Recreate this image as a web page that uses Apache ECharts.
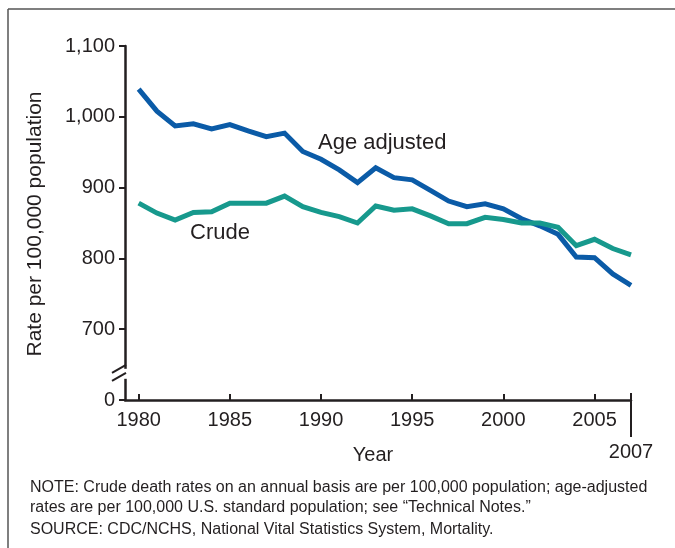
<!DOCTYPE html>
<html>
<head>
<meta charset="utf-8">
<script src="https://cdn.jsdelivr.net/npm/echarts@6.0.0/dist/echarts.min.js"></script>
<style>
html,body{margin:0;padding:0;background:#fff;}
#chart{width:675px;height:548px;}
</style>
</head>
<body>
<div id="chart"></div>
<script>
const years = [1980,1981,1982,1983,1984,1985,1986,1987,1988,1989,1990,1991,1992,1993,1994,1995,1996,1997,1998,1999,2000,2001,2002,2003,2004,2005,2006,2007];
const ageAdjusted = [1039,1008,987,990,983,989,980,972,977,951,940,925,907,928,914,911,896,881,873,877,870,856,846,834,802,801,778,762];
const crude = [878,864,854,865,866,878,878,878,888,873,865,859,850,874,868,870,860,849,849,858,855,850,850,844,818,827,814,805];
const xTicks = [1980,1985,1990,1995,2000,2005];
const yTicks = [600,700,800,900,1000,1100];
const yBreakLabel = {600: '0'};
const seriesNames = ['Age adjusted','Crude'];
const noteLines = [
  'NOTE: Crude death rates on an annual basis are per 100,000 population; age-adjusted',
  'rates are per 100,000 U.S. standard population; see \u201cTechnical Notes.\u201d',
  'SOURCE: CDC/NCHS, National Vital Statistics System, Mortality.'
];

const FONT = '"Liberation Sans", Arial, Helvetica, sans-serif';
const INK = '#231f20';
const BLUE = '#0b5ba7';
const TEAL = '#17998d';

const chart = echarts.init(document.getElementById('chart'), null, {renderer:'canvas'});

function pairs(vals){ return years.map((y,i)=>[y, vals[i]]); }

chart.setOption({
  animation:false,
  backgroundColor:'#fff',
  grid:{left:125, right:44, top:46, bottom:148, containLabel:false},
  xAxis:{
    type:'value', min:1979.25, max:2007,
    splitLine:{show:false},
    axisLine:{show:true, lineStyle:{color:INK, width:2.5}},
    axisTick:{show:true, inside:true, length:6, lineStyle:{color:INK, width:2}, customValues:xTicks},
    axisLabel:{show:true, customValues:xTicks, fontSize:20, color:INK, fontFamily:FONT, margin:10,
      formatter:v=>String(v)}
  },
  yAxis:{
    type:'value', min:600, max:1100, interval:100,
    splitLine:{show:false},
    axisLine:{show:true, lineStyle:{color:INK, width:2.5}},
    axisTick:{show:true, inside:false, length:6, lineStyle:{color:INK, width:2}},
    axisLabel:{fontSize:20, color:INK, fontFamily:FONT, margin:10,
      formatter:v=> yBreakLabel[v] !== undefined ? yBreakLabel[v] : v.toLocaleString('en-US')}
  },
  series:[
    {name:seriesNames[0], type:'line', data:pairs(ageAdjusted), symbol:'none',
     lineStyle:{color:BLUE, width:5, join:'miter'}, itemStyle:{color:BLUE}, z:3},
    {name:seriesNames[1], type:'line', data:pairs(crude), symbol:'none',
     lineStyle:{color:TEAL, width:5, join:'miter'}, itemStyle:{color:TEAL}, z:4}
  ]
});

const x0 = chart.convertToPixel({xAxisIndex:0}, 1979.25);
const x2007 = chart.convertToPixel({xAxisIndex:0}, 2007);
const yBottom = chart.convertToPixel({yAxisIndex:0}, 600);
const yBrk = chart.convertToPixel({yAxisIndex:0}, 637);

const graphics = [
  // frame
  {type:'line', shape:{x1:8, y1:9, x2:675, y2:9}, style:{stroke:'#555', lineWidth:1.5}, silent:true},
  {type:'line', shape:{x1:8, y1:9, x2:8, y2:548}, style:{stroke:'#555', lineWidth:1.5}, silent:true},
  // axis break gap
  {type:'rect', shape:{x:x0-3, y:yBrk-5, width:6, height:10}, style:{fill:'#fff'}, z:100},
  {type:'line', shape:{x1:x0-13, y1:yBrk-1, x2:x0+1, y2:yBrk-9}, style:{stroke:INK, lineWidth:2}, z:101},
  {type:'line', shape:{x1:x0-13, y1:yBrk+7, x2:x0+1, y2:yBrk-1}, style:{stroke:INK, lineWidth:2}, z:101},
  // 2007 long tick and label
  {type:'line', shape:{x1:x2007, y1:yBottom-7, x2:x2007, y2:yBottom+37}, style:{stroke:INK, lineWidth:2}, z:101},
  {type:'text', x:x2007, y:yBottom+52, style:{text:'2007', fill:INK, font:'20px '+FONT, align:'center', verticalAlign:'middle'}, z:101},
  // axis titles
  {type:'text', x:35, y:224, rotation:Math.PI/2, style:{text:'Rate per 100,000 population', fill:INK, font:'21px '+FONT, align:'center', verticalAlign:'middle'}},
  {type:'text', x:373, y:455, style:{text:'Year', fill:INK, font:'20px '+FONT, align:'center', verticalAlign:'middle'}},
  // series labels
  {type:'text', x:318, y:143, style:{text:seriesNames[0], fill:INK, font:'22px '+FONT, align:'left', verticalAlign:'middle'}},
  {type:'text', x:190, y:233, style:{text:seriesNames[1], fill:INK, font:'22px '+FONT, align:'left', verticalAlign:'middle'}}
];
noteLines.forEach((t,i)=>{
  graphics.push({type:'text', x:30, y:[488,508,530][i], style:{text:t, fill:INK, font:'16px '+FONT, align:'left', verticalAlign:'middle'}});
});
chart.setOption({graphic:graphics});
</script>
</body>
</html>
